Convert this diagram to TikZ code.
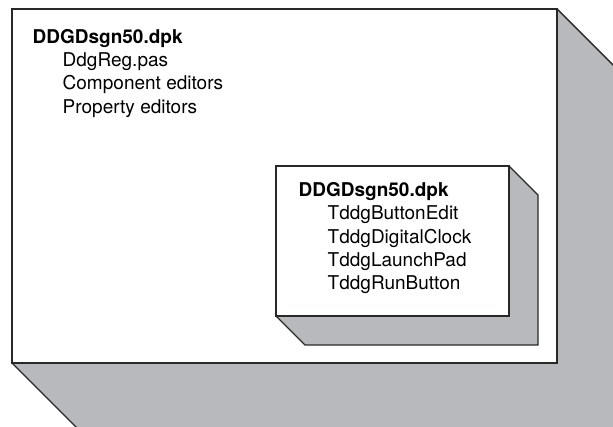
\documentclass[tikz,border=0pt]{standalone}
\usepackage{fontspec}
\setmainfont{TeX Gyre Heros}
\definecolor{shadowgray}{RGB}{184,185,189}
\definecolor{edgegray}{RGB}{40,40,40}

\begin{document}
\begin{tikzpicture}[x=1pt, y=-1pt, line width=1.4pt,
	pkgbox/.style  = {draw=edgegray, fill=white},
	pkgside/.style = {draw=edgegray, fill=shadowgray, line join=miter},
	pkgtitle/.style = {anchor=base west, inner sep=0pt, font=\fontsize{19}{23}\selectfont\bfseries},
	pkgitem/.style  = {anchor=base west, inner sep=0pt, font=\fontsize{19}{23}\selectfont}]

		\useasboundingbox (0,0) rectangle (613,427);
		\clip (0,0) rectangle (613,427);
		%%%%%%%%%%%%%%%%%%% outer package
		\draw[pkgside] (12,363) -- (77,428) -- (622,428) -- (622,74) -- (557,9) -- cycle;
		\draw[pkgbox] (12,9) rectangle (557,363);
		\node[pkgtitle] (outertitle) at (32,43.5) {DDGDsgn50.dpk};
		\foreach \txt [count=\i] in {DdgReg.pas, Component editors, Property editors} {
			\node[pkgitem] (outeritem\i) at (62,43.5+23.2*\i) {\txt};
		}
		%%%%%%%%%%%%%%%%%%% inner package
		\draw[pkgside] (276,316) -- (305,345) -- (538,345) -- (538,195) -- (509,166) -- cycle;
		\draw[pkgbox] (276,166) rectangle (509,316);
		\node[pkgtitle] (innertitle) at (298,196.7) {DDGDsgn50.dpk};
		\foreach \txt [count=\i] in {TddgButtonEdit, TddgDigitalClock, TddgLaunchPad, TddgRunButton} {
			\node[pkgitem] (inneritem\i) at (327,196.7+23.2*\i) {\txt};
		}

\end{tikzpicture}
\end{document}
